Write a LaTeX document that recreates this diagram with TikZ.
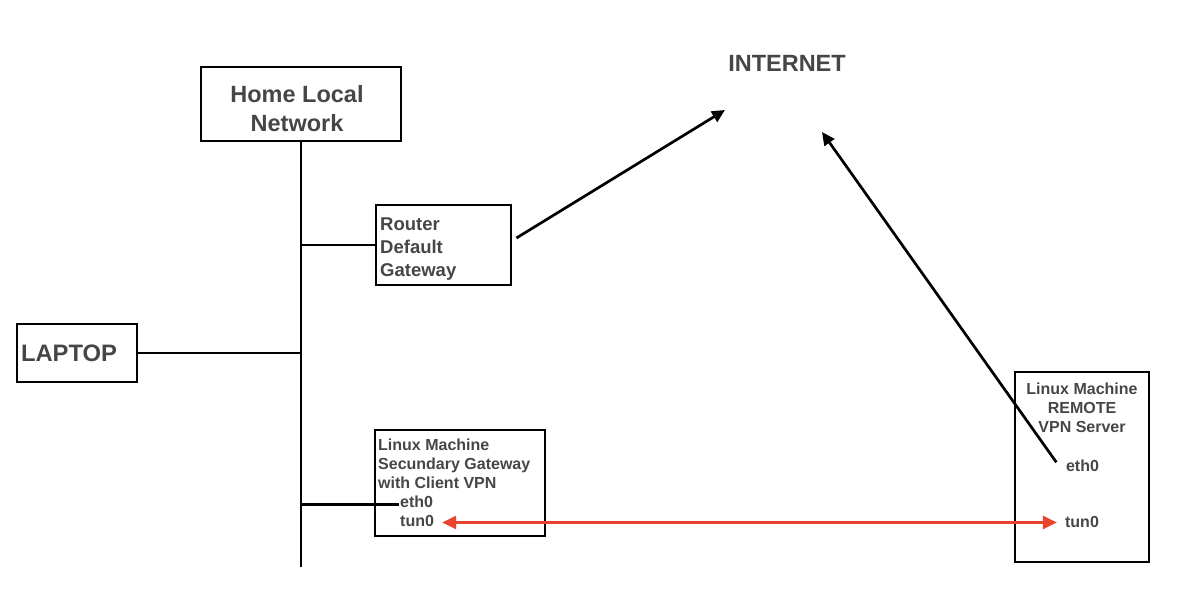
\documentclass[tikz,border=0pt]{standalone}
\usepackage{fontspec}
\setmainfont{Liberation Sans}
\usetikzlibrary{arrows.meta}
\definecolor{textgray}{HTML}{464646}
\definecolor{vpnred}{HTML}{E8432D}

\begin{document}
\begin{tikzpicture}[x=1pt,y=-1pt,
	box/.style={rectangle,draw,line width=2.9pt,inner sep=4pt,text=textgray},
	title/.style={inner sep=0pt,text=textgray},
	port/.style={inner sep=1.5pt,font=\bfseries\fontsize{16}{19}\selectfont,text=textgray},
	link/.style={line width=2.7pt},
	arrow/.style={link,-{Triangle[length=13pt,width=12pt]}}]
	\useasboundingbox (0,0) rectangle (1200,612);
	% home network
	\node [box,minimum width=200,minimum height=74] (home) at (301,104) {};
	\node [title,align=center,font=\bfseries\fontsize{23.5}{29}\selectfont] (hometitle) at (297,109) {Home Local\\Network};
	\node [box,minimum width=120,minimum height=58,text width=112,align=left,font=\bfseries\fontsize{23.8}{28}\selectfont] (laptop) at (77,353) {LAPTOP};
	% router
	\node [box,minimum width=135,minimum height=80] (router) at (443.5,245) {};
	\node [title,anchor=west,align=left,font=\bfseries\fontsize{18.5}{23}\selectfont] (routertitle) at (380,249) {Router\\Default\\Gateway};
	\node [title,font=\bfseries\fontsize{23.5}{28}\selectfont] (inet) at (787,63.5) {INTERNET};
	% secondary gateway
	\node [box,minimum width=170,minimum height=106] (secgw) at (460,483) {};
	\node [port,title,anchor=north west,align=left] (sectitle) at (378,438.8) {Linux Machine\\Secundary Gateway\\with Client VPN};
	\node [port,anchor=base west] (seceth) at (398.5,507) {eth0};
	\node [port,anchor=base west] (sectun) at (398.5,526) {tun0};
	% remote server
	\node [box,minimum width=134,minimum height=190] (remote) at (1082,467) {};
	\node [port,title,anchor=north,align=center] (remtitle) at (1082,383) {Linux Machine\\REMOTE\\VPN Server};
	\node [port,anchor=base] (remeth) at (1082.5,471) {eth0};
	\node [port,anchor=base] (remtun) at (1082,527) {tun0};
	\coordinate (lanend) at (301,567);
	\coordinate (inetin) at (725,110);
	\coordinate (inetout) at (822,132);
	\draw [link] (home.south) -- (lanend);
	\draw [link] (router.west -| home.south) -- (router.west);
	\draw [link] (laptop.east) -- (laptop.east -| home.south);
	\draw [link] ([yshift=-3pt]seceth.west -| home.south) -- ([yshift=-3pt]seceth.west);
	\draw [arrow] ([shift={(4,-7)}]router.east) -- (inetin);
	\draw [arrow] ([shift={(-8,-3)}]remeth.west) -- (inetout);
	\draw [link,vpnred,{Triangle[length=14pt,width=13pt]}-{Triangle[length=14pt,width=13pt]},shorten <=6.5pt,shorten >=6.5pt] ([yshift=-2pt]sectun.east) -- ([yshift=-2pt]sectun.east -| remtun.west);
\end{tikzpicture}
\end{document}
